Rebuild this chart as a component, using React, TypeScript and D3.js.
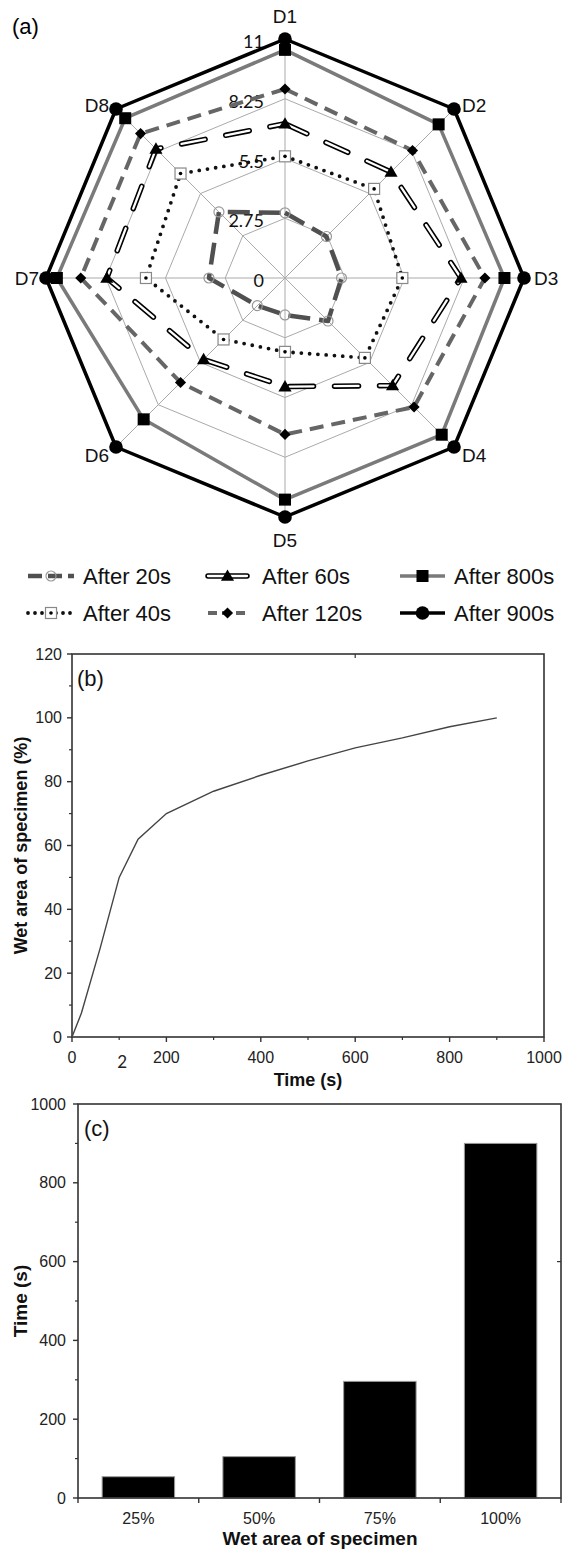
import React from "react";
import * as d3 from "d3";

const W = 563;
const H = 1550;

// radar (a)
const directions = ["D1", "D2", "D3", "D4", "D5", "D6", "D7", "D8"];
const ringTicks = [0, 2.75, 5.5, 8.25, 11];
const after20 = [3.0, 2.7, 2.6, 2.8, 1.7, 1.8, 3.5, 4.3];
const after40 = [5.6, 5.8, 5.4, 5.2, 3.4, 4.0, 6.4, 6.8];
const after60 = [7.1, 6.9, 8.1, 7.0, 5.0, 5.3, 8.2, 8.4];
const after120 = [8.7, 8.3, 9.2, 8.4, 7.2, 6.8, 9.4, 9.4];
const after800 = [10.5, 10.0, 10.1, 10.2, 10.2, 9.2, 10.5, 10.4];
const after900 = [11, 11, 11, 11, 11, 11, 11, 11];
const seriesNames = ["After 20s", "After 40s", "After 60s", "After 120s", "After 800s", "After 900s"];
const seriesValues = [after20, after40, after60, after120, after800, after900];

// line (b)
const wetTime = [0, 20, 60, 100, 140, 200, 300, 400, 500, 600, 700, 800, 900];
const wetArea = [0, 7.5, 28, 50, 62, 70, 77, 82, 86.5, 90.6, 93.7, 97.2, 100];

// bars (c)
const wetCats = ["25%", "50%", "75%", "100%"];
const wetCatTime = [54, 105, 296, 900];

const styles: Record<string, any> = {
  "After 20s": { stroke: "#505050", width: 4.5, dash: "22 9", marker: "circleOpen" },
  "After 40s": { stroke: "#111", width: 3.8, dash: "0 8.3", cap: "round", marker: "squareOpen" },
  "After 60s": { stroke: "#000", width: 5.5, dash: "24 21", cap: "round", inner: "#fff", marker: "triangle" },
  "After 120s": { stroke: "#666", width: 4, dash: "14 8", marker: "diamond" },
  "After 800s": { stroke: "#7a7a7a", width: 3.5, marker: "square" },
  "After 900s": { stroke: "#000", width: 3.5, marker: "circle" },
};

const sans = "'Liberation Sans', Arial, sans-serif";

function Marker({ kind, x, y }: { kind: string; x: number; y: number }) {
  if (kind === "circle") return <circle cx={x} cy={y} r={6.8} fill="#000" />;
  if (kind === "square") return <rect x={x - 6} y={y - 6} width={12} height={12} fill="#000" />;
  if (kind === "circleOpen")
    return <circle cx={x} cy={y} r={5} fill="none" stroke="#999" strokeWidth={1.2} />;
  if (kind === "squareOpen")
    return (
      <g>
        <rect x={x - 5.5} y={y - 5.5} width={11} height={11} fill="#fff" stroke="#888" strokeWidth={1.2} />
        <circle cx={x} cy={y} r={1.8} fill="#000" />
      </g>
    );
  if (kind === "triangle")
    return <path d={d3.symbol().type(d3.symbolTriangle).size(75)()!} transform={`translate(${x},${y + 1})`} fill="#000" />;
  if (kind === "diamond")
    return <path d={d3.symbol().type(d3.symbolSquare).size(62)()!} transform={`translate(${x},${y}) rotate(45)`} fill="#000" />;
  return null;
}

function StyledPath({ d, s }: { d: string; s: any }) {
  return (
    <g fill="none">
      <path d={d} stroke={s.stroke} strokeWidth={s.width} strokeDasharray={s.dash} strokeLinecap={s.cap || "butt"} strokeLinejoin="round" />
      {s.inner && (
        <path d={d} stroke={s.inner} strokeWidth={s.width - 3.2} strokeDasharray={s.dash} strokeLinecap={s.cap || "butt"} strokeLinejoin="round" />
      )}
    </g>
  );
}

function Radar() {
  const cx = 285;
  const cy = 278;
  const r = d3.scaleLinear().domain([0, 11]).range([0, 239]);
  const ang = (i: number) => (i * 2 * Math.PI) / directions.length;
  const pt = (v: number, i: number): [number, number] => [cx + r(v) * Math.sin(ang(i)), cy - r(v) * Math.cos(ang(i))];
  const radial = d3
    .lineRadial<number>()
    .angle((_, i) => ang(i))
    .radius((v) => r(v))
    .curve(d3.curveLinearClosed);

  const labelPos = (i: number) => {
    const [x, y] = pt(11, i);
    const offs = [
      [0, -23, "middle"],
      [8, -4, "start"],
      [10, 0, "start"],
      [8, 8, "start"],
      [0, 23, "middle"],
      [-7, 8, "end"],
      [-7, 0, "end"],
      [-7, -4, "end"],
    ][i] as [number, number, string];
    return { x: x + offs[0], y: y + offs[1], anchor: offs[2] };
  };

  return (
    <g>
      <text x={12} y={34} fontFamily={sans} fontSize={22}>(a)</text>
      {ringTicks.filter((t) => t > 0).map((t) => (
        <polygon key={t} points={directions.map((_, i) => pt(t, i).join(",")).join(" ")} fill="none" stroke="#aaa" strokeWidth={1} />
      ))}
      {directions.map((_, i) => {
        const [x, y] = pt(11, i);
        return <line key={i} x1={cx} y1={cy} x2={x} y2={y} stroke="#aaa" strokeWidth={1} />;
      })}
      {ringTicks.map((t) => (
        <text key={t} x={cx - 21} y={cy - r(t) + 9} textAnchor="end" fontFamily="Lato, 'Open Sans', sans-serif" fontSize={18} fill="#111">
          {t}
        </text>
      ))}
      {seriesNames.map((name, si) => {
        const s = styles[name];
        return (
          <g key={name}>
            <g transform={`translate(${cx},${cy})`}>
              <StyledPath d={radial(seriesValues[si])!} s={s} />
            </g>
            {seriesValues[si].map((v, i) => {
              const [x, y] = pt(v, i);
              return <Marker key={i} kind={s.marker} x={x} y={y} />;
            })}
          </g>
        );
      })}
      {directions.map((dname, i) => {
        const p = labelPos(i);
        return (
          <text key={dname} x={p.x} y={p.y} dy="0.35em" textAnchor={p.anchor} fontFamily={sans} fontSize={19} fill="#111">
            {dname}
          </text>
        );
      })}
    </g>
  );
}

function Legend() {
  const cols = [
    { x0: 28, x1: 74, tx: 83 },
    { x0: 208, x1: 247, tx: 262 },
    { x0: 400, x1: 445, tx: 454 },
  ];
  const rows = [576, 613];
  const legDash: Record<string, string | undefined> = {
    "After 20s": "14 6",
    "After 40s": "0 7",
    "After 60s": undefined,
    "After 120s": "9 5",
  };
  return (
    <g>
      {seriesNames.map((name, i) => {
        const c = cols[Math.floor(i / 2)];
        const y = rows[i % 2];
        const s = styles[name];
        const legStyle = { ...s, dash: legDash[name] };
        return (
          <g key={name}>
            <StyledPath d={`M${c.x0},${y}L${c.x1},${y}`} s={legStyle} />
            <Marker kind={s.marker} x={(c.x0 + c.x1) / 2} y={y} />
            <text x={c.tx} y={y} dy="0.36em" fontFamily={sans} fontSize={22} fill="#111">{name}</text>
          </g>
        );
      })}
    </g>
  );
}

function LineChart() {
  const x = d3.scaleLinear().domain([0, 1000]).range([72, 544]);
  const y = d3.scaleLinear().domain([0, 120]).range([1037, 654]);
  const line = d3
    .line<number>()
    .x((_, i) => x(wetTime[i]))
    .y((v) => y(v));
  const axisCol = "#333";
  return (
    <g fontFamily={sans} fill="#222">
      <rect x={x(0)} y={y(120)} width={x(1000) - x(0)} height={y(0) - y(120)} fill="none" stroke={axisCol} strokeWidth={1.6} />
      {y.ticks(6).map((t) => (
        <g key={t}>
          <line x1={x(0) - 5} x2={x(0)} y1={y(t)} y2={y(t)} stroke={axisCol} strokeWidth={1.4} />
          <text x={x(0) - 10} y={y(t)} dy="0.35em" textAnchor="end" fontSize={16}>{t}</text>
        </g>
      ))}
      {d3.range(10, 120, 20).map((t) => (
        <line key={t} x1={x(0) - 3} x2={x(0)} y1={y(t)} y2={y(t)} stroke={axisCol} strokeWidth={1.2} />
      ))}
      {x.ticks(5).map((t) => (
        <g key={t}>
          <line x1={x(t)} x2={x(t)} y1={y(0)} y2={y(0) + 5} stroke={axisCol} strokeWidth={1.4} />
          <text x={x(t)} y={y(0) + 26} textAnchor="middle" fontSize={16}>{t}</text>
        </g>
      ))}
      {d3.range(100, 1000, 200).map((t) => (
        <line key={t} x1={x(t)} x2={x(t)} y1={y(0)} y2={y(0) + 3} stroke={axisCol} strokeWidth={1.2} />
      ))}
      <line x1={x(600)} x2={x(600)} y1={y(120)} y2={y(120) + 4} stroke={axisCol} strokeWidth={1.2} />
      <text x={x(100) + 3} y={y(0) + 31} textAnchor="middle" fontFamily="Lato, sans-serif" fontSize={17} fill="#222">2</text>
      <path d={line(wetArea)!} fill="none" stroke="#444" strokeWidth={1.4} />
      <text x={77} y={686} fontSize={22} fill="#111">(b)</text>
      <text x={308} y={1086} textAnchor="middle" fontSize={18} fontWeight="bold" fill="#111">Time (s)</text>
      <text transform={`translate(27,${(y(0) + y(120)) / 2}) rotate(-90)`} textAnchor="middle" fontSize={18} fontWeight="bold" fill="#111">
        Wet area of specimen (%)
      </text>
    </g>
  );
}

function BarChart() {
  const x = d3.scaleBand().domain(wetCats).range([78, 561]).paddingInner(0.4).paddingOuter(0.2);
  const y = d3.scaleLinear().domain([0, 1000]).range([1498, 1104]);
  const axisCol = "#333";
  const step = x.step();
  const bounds = wetCats.map((c) => x(c)! + x.bandwidth() / 2 - step / 2).concat([x.range()[1]]);
  return (
    <g fontFamily={sans} fill="#222">
      {wetCats.map((c, i) => (
        <rect key={c} x={x(c)} y={y(wetCatTime[i])} width={x.bandwidth()} height={y(0) - y(wetCatTime[i])} fill="#000" stroke="#999" strokeWidth={1} />
      ))}
      <rect x={78} y={y(1000)} width={561 - 78} height={y(0) - y(1000)} fill="none" stroke={axisCol} strokeWidth={1.6} />
      {y.ticks(5).map((t) => (
        <g key={t}>
          <line x1={78 - 5} x2={78} y1={y(t)} y2={y(t)} stroke={axisCol} strokeWidth={1.4} />
          <text x={66} y={y(t)} dy="0.35em" textAnchor="end" fontSize={16}>{t}</text>
        </g>
      ))}
      {d3.range(100, 1000, 200).map((t) => (
        <line key={t} x1={78 - 3} x2={78} y1={y(t)} y2={y(t)} stroke={axisCol} strokeWidth={1.2} />
      ))}
      <line x1={561} x2={561 - 4} y1={y(600)} y2={y(600)} stroke={axisCol} strokeWidth={1.2} />
      {bounds.map((b, i) => (
        <line key={i} x1={b} x2={b} y1={y(0)} y2={y(0) + 5} stroke={axisCol} strokeWidth={1.4} />
      ))}
      {wetCats.map((c) => (
        <text key={c} x={x(c)! + x.bandwidth() / 2} y={1524} textAnchor="middle" fontSize={16}>{c}</text>
      ))}
      <text x={84} y={1136} fontSize={22} fill="#111">(c)</text>
      <text x={320} y={1545} textAnchor="middle" fontSize={19} fontWeight="bold" fill="#111">Wet area of specimen</text>
      <text transform={`translate(27,1301) rotate(-90)`} textAnchor="middle" fontSize={19} fontWeight="bold" fill="#111">
        Time (s)
      </text>
    </g>
  );
}

export default function App() {
  return (
    <svg width={W} height={H} viewBox={`0 0 ${W} ${H}`} style={{ position: "absolute", left: 0, top: 0, display: "block", background: "#fff" }}>
      <rect width={W} height={H} fill="#fff" />
      <Radar />
      <Legend />
      <LineChart />
      <BarChart />
    </svg>
  );
}
